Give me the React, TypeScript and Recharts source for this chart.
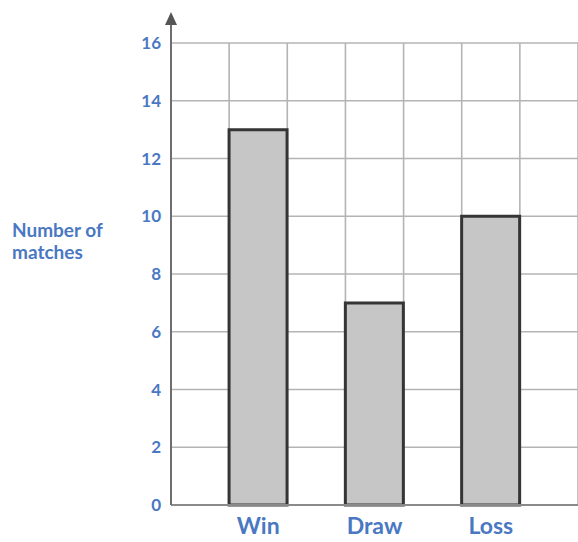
import { BarChart, Bar, XAxis, YAxis, CartesianGrid } from 'recharts'

const categories = ['Win', 'Draw', 'Loss']
const matches = [13, 7, 10]
const positions = [1.5, 3.5, 5.5]
const yTicks = [0, 2, 4, 6, 8, 10, 12, 14, 16]

const W = 578
const H = 542
const TOP = 43
const AXIS_W = 171
const XAXIS_H = 37
const UNITS = 7

const BLUE = '#4a78c2'
const FONT = 'Lato, "Open Sans", sans-serif'

const data = categories.map((c, i) => ({ name: c, x: positions[i], value: matches[i] }))

const App = () => {
  const gridX = ({ offset }: any) => {
    const out: number[] = []
    for (let i = 1; i <= UNITS; i++) out.push(offset.left + (offset.width * i) / UNITS)
    return out
  }

  return (
    <div style={{ position: 'absolute', left: 0, top: 0, width: W, height: H, background: '#fff' }}>
      <BarChart width={W} height={H} data={data} margin={{ top: TOP, right: 0, bottom: 0, left: 0 }}>
        <CartesianGrid
          stroke="#b4b4b4"
          strokeWidth={1.6}
          verticalCoordinatesGenerator={gridX}
        />
        <XAxis
          type="number"
          dataKey="x"
          domain={[0, UNITS]}
          ticks={positions}
          tickFormatter={(v) => categories[positions.indexOf(v)] ?? ''}
          height={XAXIS_H}
          tickLine={false}
          tickSize={4}
          tickMargin={9}
          axisLine={{ stroke: '#8a8a8a', strokeWidth: 2 }}
          tick={{ fill: BLUE, fontSize: 23, fontFamily: FONT, fontWeight: 700 }}
        />
        <YAxis
          domain={[0, 16]}
          ticks={yTicks}
          width={AXIS_W}
          tickLine={false}
          tickSize={4}
          tickMargin={6}
          axisLine={{ stroke: '#6e6e6e', strokeWidth: 2 }}
          tick={{ fill: BLUE, fontSize: 17, fontFamily: FONT, fontWeight: 700 }}
        />
        <Bar
          dataKey="value"
          barSize={58}
          fill="#c6c6c6"
          stroke="#353535"
          strokeWidth={3}
          isAnimationActive={false}
        />
      </BarChart>
      <svg
        width={W}
        height={H}
        style={{ position: 'absolute', left: 0, top: 0, pointerEvents: 'none' }}
      >
        <line x1={AXIS_W} y1={TOP} x2={AXIS_W} y2={22} stroke="#6e6e6e" strokeWidth={2} />
        <polygon
          points={`${AXIS_W - 6},25 ${AXIS_W + 6},25 ${AXIS_W},12`}
          fill="#555"
        />
        <text x={12} y={237} fill={BLUE} fontSize={19} fontFamily={FONT} fontWeight={700}>Number of</text>
        <text x={12} y={259} fill={BLUE} fontSize={19} fontFamily={FONT} fontWeight={700}>matches</text>
      </svg>
    </div>
  )
}

export default App
